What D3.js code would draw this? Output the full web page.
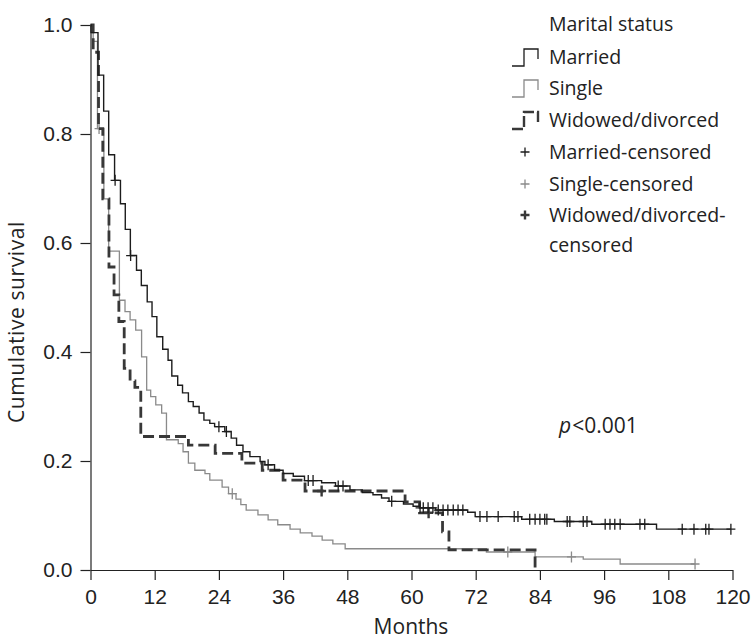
<!DOCTYPE html>
<html lang="en">
<head>
<meta charset="UTF-8">
<title>Survival by marital status</title>
<script src="https://d3js.org/d3.v7.min.js"></script>
<style>
    body { margin: 0; background: #fff; }
    svg { display: block; font-family: "Open Sans", sans-serif; }
    .axis path, .axis line { stroke: #222; stroke-width: 1.2; }
    .axis text { font-size: 21px; fill: #222; }
    .lbl { font-size: 19.5px; fill: #222; }
</style>
</head>
<body>
<svg id="chart" width="753" height="640"></svg>
<script>
// Kaplan-Meier steps: months, cumulative survival
const marriedT = [0, 0.1, 1.4, 2.46, 3.4, 4.5, 5.6, 6.5, 7.45, 8.6, 9.5, 10.6, 11.5, 12.4, 13.5, 14.5, 15.2, 16.3, 17.2, 18.3, 19.2, 20.3, 21.2, 22.3, 23.2, 25.1, 26.3, 27.3, 28.5, 29.8, 31.7, 32.6, 34.4, 36.0, 37.9, 40.0, 43.2, 45.8, 48.5, 50.8, 52.8, 54.4, 55.8, 58.5, 60.3, 61.5, 64.5, 70.5, 71.9, 80.6, 86.7, 93.7, 105.8, 119.7];
const marriedS = [1, 0.986, 0.908, 0.842, 0.762, 0.715, 0.672, 0.625, 0.577, 0.55, 0.522, 0.492, 0.465, 0.428, 0.405, 0.385, 0.356, 0.339, 0.325, 0.309, 0.30, 0.288, 0.275, 0.269, 0.263, 0.254, 0.242, 0.229, 0.217, 0.208, 0.199, 0.193, 0.183, 0.177, 0.172, 0.164, 0.16, 0.154, 0.147, 0.142, 0.138, 0.132, 0.126, 0.121, 0.117, 0.114, 0.110, 0.106, 0.098, 0.093, 0.089, 0.084, 0.075, 0.075];
const marriedCens = [4.6, 7.5, 24.0, 25.4, 33.2, 40.7, 41.6, 46.3, 47.2, 56.3, 61.6, 62.2, 63.1, 64.0, 65.0, 65.9, 66.8, 67.8, 68.7, 69.6, 72.8, 74.1, 76.2, 79.2, 79.9, 82.1, 83.1, 84.0, 84.9, 85.3, 89.1, 89.6, 92.1, 92.8, 96.2, 97.1, 98.0, 99.0, 102.7, 103.6, 110.6, 112.8, 115.0, 115.6, 119.7];

const singleT = [0, 0.5, 1.3, 2.5, 3.4, 5.4, 6.45, 7.4, 8.45, 9.55, 10.5, 11.25, 12.2, 13.3, 14.2, 16.4, 17.3, 18.3, 19.5, 21.4, 22.3, 24.6, 25.8, 27.2, 28.1, 29.1, 31.3, 33.2, 35.0, 37.3, 39.2, 41.4, 43.3, 45.3, 47.6, 74.0, 83.1, 92.1, 99.0, 113.0];
const singleS = [1, 0.97, 0.81, 0.681, 0.585, 0.495, 0.474, 0.459, 0.44, 0.391, 0.33, 0.318, 0.303, 0.288, 0.239, 0.232, 0.217, 0.196, 0.183, 0.177, 0.165, 0.152, 0.14, 0.13, 0.12, 0.11, 0.101, 0.092, 0.083, 0.075, 0.068, 0.062, 0.055, 0.048, 0.039, 0.033, 0.024, 0.02, 0.011, 0.011];
const singleCens = [1.6, 26.5, 78.0, 89.9, 113.0];

const widowT = [0, 0.5, 1.5, 2.3, 3.45, 4.4, 5.3, 6.3, 7.4, 8.3, 9.4, 18.3, 23.3, 28.3, 32.1, 36.0, 40.1, 58.8, 61.5, 65.8, 67.0, 83.1];
const widowS = [1, 0.95, 0.81, 0.681, 0.556, 0.505, 0.456, 0.37, 0.347, 0.335, 0.245, 0.229, 0.214, 0.196, 0.183, 0.165, 0.145, 0.125, 0.105, 0.07, 0.037, 0];
const widowCens = [43.2, 63.2];

const xTicks = [0, 12, 24, 36, 48, 60, 72, 84, 96, 108, 120];
const yTicks = [0, 0.2, 0.4, 0.6, 0.8, 1.0];
const legendLabels = ["Married", "Single", "Widowed/divorced", "Married-censored", "Single-censored", "Widowed/divorced-", "censored"];

const svg = d3.select("#chart");
const x = d3.scaleLinear().domain([0, 120]).range([90.5, 732.5]);
const y = d3.scaleLinear().domain([0, 1]).range([570, 25]);

// axes
svg.append("g").attr("class", "axis")
    .attr("transform", "translate(0,570)")
    .call(d3.axisBottom(x).tickValues(xTicks).tickSize(10).tickPadding(9).tickSizeOuter(0));
svg.append("g").attr("class", "axis")
    .attr("transform", "translate(90.5,0)")
    .call(d3.axisLeft(y).tickValues(yTicks).tickFormat(d3.format(".1f")).tickSize(10).tickPadding(8).tickSizeOuter(0));

const groups = [
    { t: marriedT, s: marriedS, cens: marriedCens, color: "#1c1c1c", width: 1.4, dash: null, cw: 1.3 },
    { t: singleT, s: singleS, cens: singleCens, color: "#8a8a8a", width: 1.3, dash: null, cw: 1.3 },
    { t: widowT, s: widowS, cens: widowCens, color: "#383838", width: 2.8, dash: "11,5", cw: 2.4 }
];

const line = d3.line().x(d => x(d[0])).y(d => y(d[1])).curve(d3.curveStepAfter);

// draw single first, then widowed, married on top
[groups[1], groups[2], groups[0]].forEach(g => {
    const pts = g.t.map((t, i) => [t, g.s[i]]);
    svg.append("path")
        .datum(pts)
        .attr("d", line)
        .attr("fill", "none")
        .attr("stroke", g.color)
        .attr("stroke-width", g.width)
        .attr("stroke-dasharray", g.dash);

    const survAt = t => g.s[d3.bisectRight(g.t, t) - 1];
    svg.append("g").selectAll("path")
        .data(g.cens)
        .join("path")
        .attr("d", t => {
            const cx = x(t), cy = y(survAt(t));
            return `M${cx - 4.5},${cy}H${cx + 4.5}M${cx},${cy - 5.5}V${cy + 5.5}`;
        })
        .attr("stroke", g.color)
        .attr("stroke-width", g.cw);
});

// axis titles
svg.append("text").attr("class", "lbl").style("font-size", "21px")
    .attr("x", 411).attr("y", 634).attr("text-anchor", "middle").text("Months");
svg.append("text").attr("class", "lbl").style("font-size", "21px").style("letter-spacing", "0.6px")
    .attr("transform", "translate(24,322) rotate(-90)")
    .attr("text-anchor", "middle").text("Cumulative survival");

// p value
const p = svg.append("text").attr("class", "lbl").style("font-size", "21px")
    .attr("x", 559).attr("y", 433);
p.append("tspan").attr("font-style", "italic").text("p");
p.append("tspan").attr("dx", 1).text("<0.001");

// legend
const leg = svg.append("g");
leg.append("text").attr("class", "lbl").attr("x", 549).attr("y", 31).text("Marital status");
const rowY = [57, 88, 120, 152, 184, 215, 245];
legendLabels.forEach((lab, i) => {
    leg.append("text").attr("class", "lbl").attr("x", 549).attr("y", rowY[i] + 7).text(lab);
});
groups.forEach((g, i) => {
    const cy = rowY[i];
    leg.append("path")
        .attr("d", `M512,${cy + 9}H524V${cy - 8}H538V${cy + 2}`)
        .attr("fill", "none")
        .attr("stroke", g.color)
        .attr("stroke-width", g.dash ? 2.4 : 1.3)
        .attr("stroke-dasharray", g.dash ? "11,3" : null);
    const cy2 = rowY[i + 3], cx = 525;
    leg.append("path")
        .attr("d", `M${cx - 4.5},${cy2}H${cx + 4.5}M${cx},${cy2 - 4.5}V${cy2 + 4.5}`)
        .attr("stroke", g.color)
        .attr("stroke-width", g.cw);
});
</script>
</body>
</html>
